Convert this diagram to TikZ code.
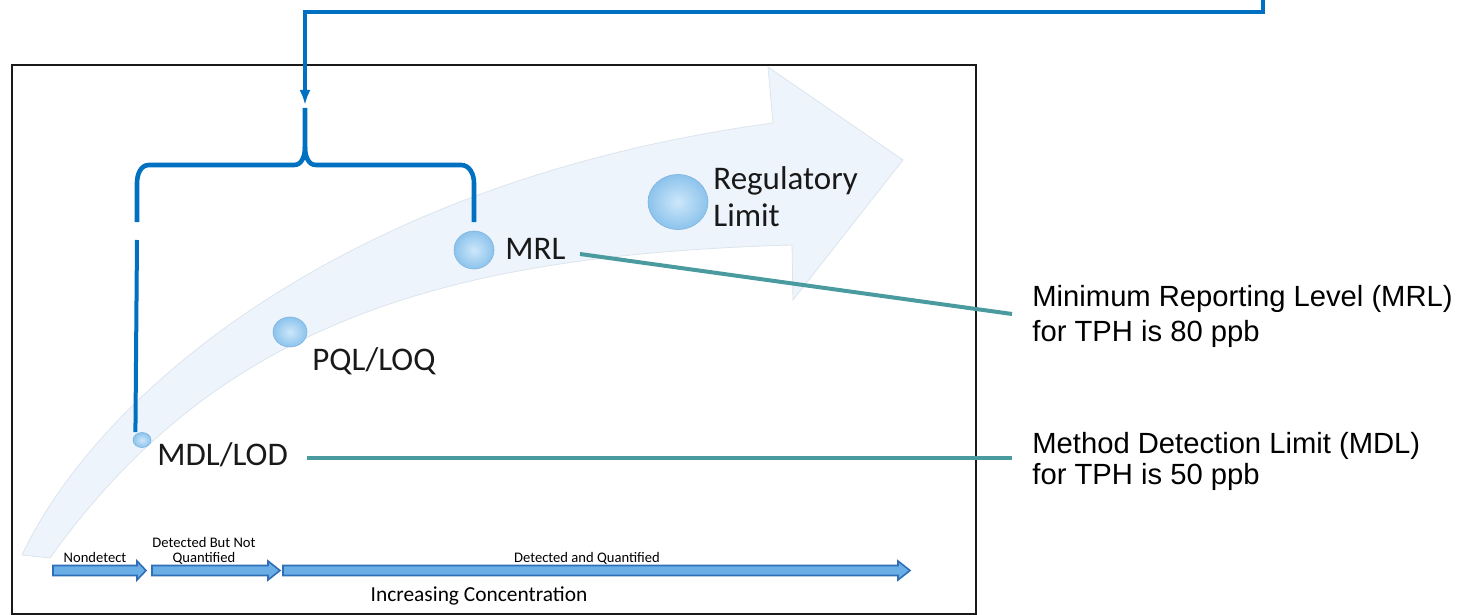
\documentclass[tikz,border=0pt]{standalone}
\usepackage{fontspec}
\setmainfont{Carlito}
\newfontfamily\arialf{Liberation Sans}
\usetikzlibrary{arrows.meta,shapes.geometric}
\definecolor{conblue}{HTML}{0070C0}
\definecolor{tealc}{HTML}{4A9BA0}
\definecolor{bandfill}{HTML}{EEF4FB}
\definecolor{bandedge}{HTML}{DCE4EE}
\definecolor{arrfill}{HTML}{6AAEE6}
\definecolor{arredge}{HTML}{2F6FB8}
\definecolor{ballin}{HTML}{CDE7FA}
\definecolor{ballout}{HTML}{8CC3EC}
\definecolor{balledge}{HTML}{7DB5E2}
\newcommand{\flatarr}[3]{%
  \path[flat] (#1,565.5) -- (#3,565.5) -- (#3,561) -- (#2,570.5) -- (#3,580) -- (#3,575.5) -- (#1,575.5) -- cycle;}
\begin{document}
\begin{tikzpicture}[x=0.5pt,y=-0.5pt,
  flat/.style={fill=arrfill,draw=arredge,line width=0.8pt,line join=miter},
  conn/.style={draw=conblue,line width=1.8pt},
  brace/.style={draw=conblue,line width=2.3pt,line cap=butt},
  tealline/.style={draw=tealc,line width=2pt},
  ball/.style={ellipse,inner sep=0pt,shading=radial,inner color=ballin,outer color=ballout,draw=balledge,line width=0.3pt},
  lbl/.style={inner sep=0pt,font=\fontsize{16.5}{18.5}\selectfont,text=black!90},
  small/.style={inner sep=0pt,font=\fontsize{7.3}{8.5}\selectfont},
  note/.style={inner sep=0pt,font=\arialf\fontsize{14.6}{17}\selectfont,anchor=base west}]
\useasboundingbox (0,0) rectangle (1468,615);
% frame
\draw[line width=1.3pt,draw=black!90] (12,65) rectangle (976,614);
% curved band arrow
\path[fill=bandfill,draw=bandedge,line width=0.4pt]
  (22,555) .. controls (100,390) and (350,180) .. (773,123)
  -- (768,67) -- (903,160) -- (793,300) -- (792,245)
  .. controls (450,255) and (220,320) .. (50,558) -- cycle;
% balls
\node[ball,minimum width=9pt,minimum height=7.5pt] (bmdl) at (142,440) {};
\node[ball,minimum width=17pt,minimum height=15pt] (bpql) at (290,332) {};
\node[ball,minimum width=20pt,minimum height=19pt] (bmrl) at (474,250) {};
\node[ball,minimum width=30pt,minimum height=27.5pt] (breg) at (678,202) {};
% labels
\node[lbl,anchor=base west] (mdl) at (157,465) {MDL/LOD};
\node[lbl,anchor=base west] (pql) at (312,370) {PQL/LOQ};
\node[lbl,anchor=base west] (mrl) at (505,259) {MRL};
\node[lbl,anchor=base west] (reg1) at (713,190) {Regulatory};
\node[lbl,anchor=base west] (reg2) at (713,227) {Limit};
% bottom arrows
\flatarr{53}{146}{137}
\flatarr{152}{280}{268}
\flatarr{283}{910}{898}
\node[small] (nd) at (95,557) {Nondetect};
\node[small] (dbn1) at (204,542) {Detected But Not};
\node[small] (dbn2) at (204,558) {Quantified};
\node[small] (daq) at (587,558) {Detected and Quantified};
\node[inner sep=0pt,font=\fontsize{10.7}{12}\selectfont] (inc) at (479,596) {Increasing Concentration};
% right notes
\node[note] (mrlA) at (1032,306.5) {Minimum Reporting Level (MRL)};
\node[note] (mrlB) at (1032,341.5) {for TPH is 80 ppb};
\node[note] (mdlA) at (1032,453) {Method Detection Limit (MDL)};
\node[note] (mdlB) at (1032,484) {for TPH is 50 ppb};
% teal connectors
\coordinate (mrlend) at (1012,314);
\coordinate (mdlend) at (1012,458);
\coordinate (mrlstart) at (580,254);
\coordinate (mdlstart) at (307,458);
\draw[tealline] (mrlstart) -- (mrlend);
\draw[tealline] (mdlstart) -- (mdlend);
% blue connector
\coordinate (src) at (1263,0);
\coordinate (turn) at (1263,12);
\coordinate (tip) at (305,105);
\draw[conn,-{Latex[length=7.5pt,width=5.5pt]}] (src) -- (turn) -| (tip);
% brace
\coordinate (btop) at (305,108);
\draw[brace] (137,222) -- (137,183) to[out=90,in=180] (149,165) -- (294,165)
  to[out=0,in=-90] (305,147) -- (btop);
\draw[brace] (305,147) to[out=-90,in=180] (316,165) -- (461,165)
  to[out=0,in=90] (474,183) -- (474,222);
\coordinate (lstart) at (137,240);
\draw[draw=conblue,line width=2pt] (lstart) -- (bmdl.north west |- bmdl.north);
\end{tikzpicture}
\end{document}
